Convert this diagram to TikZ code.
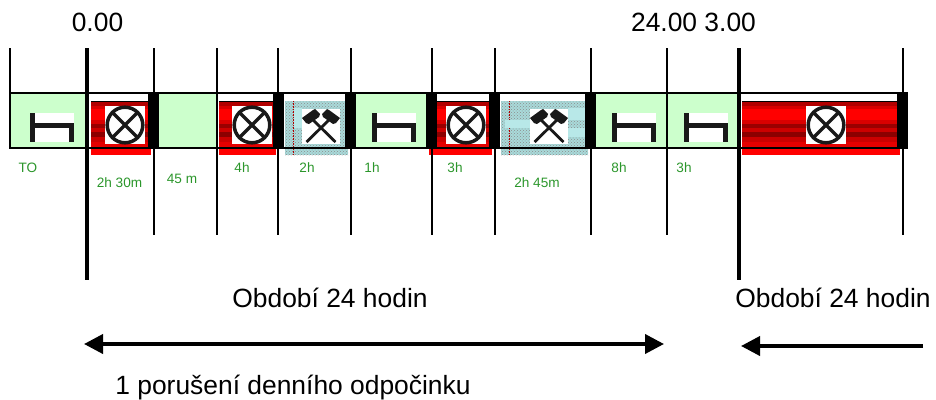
\documentclass[tikz,border=0pt]{standalone}
\usepackage{fontspec}
\setmainfont{Liberation Sans}
\usetikzlibrary{arrows.meta, patterns}
\definecolor{restgreen}{HTML}{CCFFCC}
\definecolor{labelgreen}{HTML}{2B962B}
\definecolor{minteal}{HTML}{A9DADA}
\definecolor{paleteal}{HTML}{B8E8E8}
\tikzset{
  bigtext/.style={font=\fontsize{26.4}{30}\selectfont},
  smalltext/.style={font=\fontsize{13.6}{16}\selectfont, text=labelgreen},
  thinline/.style={line width=1.8pt},
  thickline/.style={line width=4pt},
  spanarrow/.style={line width=3.8pt, -{Triangle[length=19pt,width=19pt]}, shorten >=-1pt},
  bedicon/.pic={
    \fill[white] (0,0) rectangle (44,29);
    \draw[line width=5pt, black!90] (2.5,0) -- (2.5,29);
    \draw[line width=5pt, black!90] (2.5,12.5) -- (41.5,12.5) -- (41.5,29);
  },
  crossicon/.pic={
    \fill[white] (0,0) rectangle (40,38);
    \draw[line width=3.5pt, black!90] (20,19) circle (17.8);
    \draw[line width=3.5pt, black!90] (7.4,6.4) -- (32.6,31.6) (7.4,31.6) -- (32.6,6.4);
  },
  hammericon/.pic={
    \fill[white] (0,0) rectangle (38,35);
    \foreach \s in {1,-1}{
      \begin{scope}[shift={(19,0)}, xscale=\s]
        \draw[line width=2.8pt, black!90] (-10,9) -- (14.5,33);
        \fill[black!90] (-19,9) -- (-8,1) -- (-6,0) -- (-1,5) -- (-2,8) -- (-12,15) -- (-15,14) -- cycle;
      \end{scope}
    }
  }
}

\begin{document}
\begin{tikzpicture}[x=1pt,y=-1pt]
    \useasboundingbox (0,0) rectangle (936,399);
    \def\rowtop{93}
    \def\rowbot{148}

    % rest periods
    \foreach \xa/\xb in {10/87, 159/217, 356/426, 596/739}{
      \fill[restgreen] (\xa,\rowtop) rectangle (\xb,\rowbot);
    }

    % driving blocks
    \foreach \xa/\xb in {91/151, 219/276, 429/492, 742/900}{
      \fill[red] (\xa,101) rectangle (\xb,155);
      \foreach \ya/\yb/\col in {101/106/red!70!black, 106/109/red!85!black, 109/120/red,
                                120/124/red!85!black, 124/128/red!60!black, 128/132/red!80!black,
                                132/137/red!55!black, 137/142/red!80!black, 142/148/red!90!black}{
        \fill[\col] (\xa,\ya) rectangle (\xb,\yb);
      }
      \draw[line width=1pt] (\xa,101) -- (\xb,101);
    }

    % work blocks
    \foreach \xa/\xb in {285/348, 501/588}{
      \fill[minteal] (\xa,101) rectangle (\xb,155);
      \fill[pattern=crosshatch dots, pattern color=black!45] (\xa,101) rectangle (\xb,155);
      \draw[red!70!black, line width=0.6pt, densely dotted] (\xa+8,101) -- (\xa+8,155);
    }
    \foreach \xa/\ya/\xb/\yb in {294/108/302/128, 505/120/530/128, 568/108/585/120, 568/128/585/137}{
      \fill[paleteal] (\xa,\ya) rectangle (\xb,\yb);
    }

    % icons
    \foreach \x in {30, 372, 612, 684}{
      \pic at (\x,113) {bedicon};
    }
    \foreach \x/\y in {105/106, 232/106, 446/106, 806/106}{
      \pic at (\x,\y) {crossicon};
    }
    \foreach \x in {302, 530}{
      \pic at (\x,109) {hammericon};
    }

    % breaks
    \foreach \xa/\xb in {148/159, 273/284, 345/356, 426/437, 489/500, 585/596, 897/908}{
      \fill[black] (\xa,\rowtop) rectangle (\xb,\rowbot);
    }

    % grid
    \draw[thinline] (10,48) -- (10,148);
    \foreach \x in {154, 217, 278, 351, 432, 495, 591, 667, 903}{
      \draw[thinline] (\x,48) -- (\x,235);
    }
    \foreach \x in {87, 739}{
      \draw[thickline] (\x,48) -- (\x,280);
    }
    \draw[thinline] (9,\rowtop) -- (908,\rowtop);
    \draw[thinline] (9,\rowbot) -- (908,\rowbot);

    % times
    \node[bigtext] (start) at (97.5,22) {0.00};
    \node[bigtext] (end) at (693.5,22) {24.00 3.00};

    % durations
    \foreach \name/\x/\y/\txt in {to/28/168/TO, a/119.5/183/2h 30m, b/182/179/45 m, c/242/168/4h,
                                  d/307/168/2h, e/372/168/1h, f/455/168/3h, g/537/183/2h 45m,
                                  h/619/168/8h, i/684/168/3h}{
      \node[smalltext] (\name) at (\x,\y) {\txt};
    }

    % periods
    \node[bigtext] (period) at (330,298) {Období 24 hodin};
    \node[bigtext] (nextperiod) at (833,298) {Období 24 hodin};
    \coordinate (spanl) at (85,344);
    \coordinate (spanr) at (663,344);
    \coordinate (midl) at (107,344);
    \coordinate (nextl) at (742,346);
    \coordinate (nextr) at (923,346);
    \draw[spanarrow] (midl) -- (spanl);
    \draw[spanarrow] (midl) -- (spanr);
    \draw[spanarrow] (nextr) -- (nextl);
    \node[bigtext] (breach) at (293,388) {1 porušení denního odpočinku};
\end{tikzpicture}
\end{document}
